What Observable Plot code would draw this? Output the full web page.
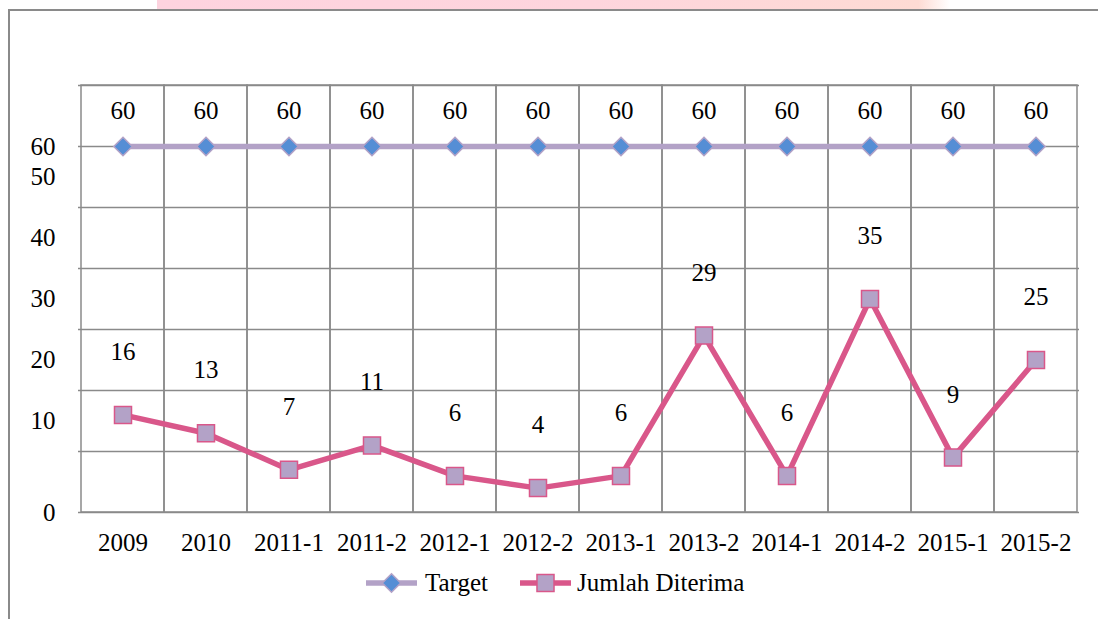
<!DOCTYPE html>
<html>
<head>
<meta charset="utf-8">
<script src="https://cdn.jsdelivr.net/npm/d3@7"></script>
<script src="https://cdn.jsdelivr.net/npm/@observablehq/plot@0.6"></script>
<style>
  body { margin: 0; background: #fff; font-family: "Liberation Serif", "Times New Roman", "Liberation Sans", sans-serif; }
  #wrap { position: relative; width: 1098px; height: 619px; overflow: hidden; background: #fff; }
  #pink { position: absolute; left: 157px; top: 0; width: 793px; height: 9px;
          background: linear-gradient(90deg, #fdd3df 0%, #fdd5dd 55%, #fddbd4 96%, #fff 100%); }
  #frame { position: absolute; left: 8px; top: 9px; width: 1100px; height: 620px;
           border-left: 2px solid #8a8a8a; border-top: 2px solid #8a8a8a; }
  #chart { position: absolute; left: 0; top: 0; }
  #legend { position: absolute; left: 366px; top: 566px; height: 34px; display: flex; align-items: center;
            font-size: 25px; color: #000; }
  #legend .item { display: flex; align-items: center; }
  #legend svg { display: block; }
  #chart svg text { font-family: "Liberation Serif", "Times New Roman", "Liberation Sans", sans-serif; }
</style>
</head>
<body>
<div id="wrap">
  <div id="pink"></div>
  <div id="frame"></div>
  <div id="chart"></div>
  <div id="legend"></div>
</div>
<script>
// ---- data ----
const categories = ["2009", "2010", "2011-1", "2011-2", "2012-1", "2012-2", "2013-1", "2013-2", "2014-1", "2014-2", "2015-1", "2015-2"];
const targetValues = [60, 60, 60, 60, 60, 60, 60, 60, 60, 60, 60, 60];
const diterimaValues = [16, 13, 7, 11, 6, 4, 6, 29, 6, 35, 9, 25];
const seriesNames = ["Target", "Jumlah Diterima"];
const gridValues = [0, 10, 20, 30, 40, 50, 60, 70];
// y tick labels as they appear in the original (positions)
const yTickPositions = [0, 15, 25, 35, 45, 55, 60];
const yTickLabels = ["0", "10", "20", "30", "40", "50", "60"];

// ---- styles ----
const gridColor = "#8a8a8a";
const targetLine = "#b3a2c7", targetFill = "#558ed5";
const diterimaLine = "#d9578a", diterimaFill = "#b3a2c7";
const font = "'Liberation Serif', 'Times New Roman', 'Liberation Sans', sans-serif";

const data = categories.map((c, i) => ({ cat: c, target: targetValues[i], diterima: diterimaValues[i] }));
const yLabelMap = new Map(yTickPositions.map((p, i) => [p, yTickLabels[i]]));

const chart = Plot.plot({
  width: 1098,
  height: 560,
  marginLeft: 78,
  marginRight: 19,
  marginTop: 85,
  marginBottom: 48,
  style: { fontFamily: font, fontSize: "25px", color: "#000", background: "transparent", overflow: "visible" },
  x: { type: "band", domain: categories, padding: 0, label: null },
  y: { domain: [0, 70], label: null },
  marks: [
    Plot.barY(categories, { x: d => d, y1: 0, y2: 70, fill: "none", stroke: gridColor, strokeWidth: 1.5, inset: 0 }),
    Plot.ruleY(gridValues, { stroke: gridColor, strokeWidth: 1.5 }),
    Plot.axisY(yTickPositions, { tickFormat: d => yLabelMap.get(d), tickSize: 0, tickPadding: 23, fontSize: 25, fill: "#000", label: null }),
    Plot.axisX({ tickSize: 0, tickPadding: 21, fontSize: 25, fill: "#000", label: null }),
    Plot.line(data, { x: "cat", y: "target", stroke: targetLine, strokeWidth: 5.5 }),
    Plot.dot(data, { x: "cat", y: "target", symbol: "diamond2", r: 8.3, fill: targetFill, stroke: targetLine, strokeWidth: 1.5 }),
    Plot.line(data, { x: "cat", y: "diterima", stroke: diterimaLine, strokeWidth: 5.5 }),
    Plot.dot(data, { x: "cat", y: "diterima", symbol: "square", r: 9.6, fill: diterimaFill, stroke: diterimaLine, strokeWidth: 1.5 }),
    Plot.text(data, { x: "cat", y: "target", text: d => String(d.target), dy: -36, fontSize: 25, fill: "#000" }),
    Plot.text(data, { x: "cat", y: "diterima", text: d => String(d.diterima), dy: -63, fontSize: 25, fill: "#000" })
  ]
});
document.getElementById("chart").appendChild(chart);

// ---- legend ----
const legend = d3.select("#legend");
const items = [
  { name: seriesNames[0], line: targetLine, fill: targetFill, stroke: targetLine, symbol: d3.symbolDiamond2, size: 216 },
  { name: seriesNames[1], line: diterimaLine, fill: diterimaFill, stroke: diterimaLine, symbol: d3.symbolSquare, size: 290 }
];
items.forEach((it, i) => {
  const div = legend.append("div").attr("class", "item").style("margin-left", i === 0 ? "0px" : "32px");
  const svg = div.append("svg").attr("width", 51).attr("height", 24);
  svg.append("line").attr("x1", 0).attr("x2", 51).attr("y1", 12).attr("y2", 12)
    .attr("stroke", it.line).attr("stroke-width", 5.5);
  svg.append("path").attr("d", d3.symbol(it.symbol, it.size)()).attr("transform", "translate(25.5,12)")
    .attr("fill", it.fill).attr("stroke", it.stroke).attr("stroke-width", 1.5);
  div.append("span").style("margin-left", i === 0 ? "8px" : "6px").text(it.name);
});
</script>
</body>
</html>
